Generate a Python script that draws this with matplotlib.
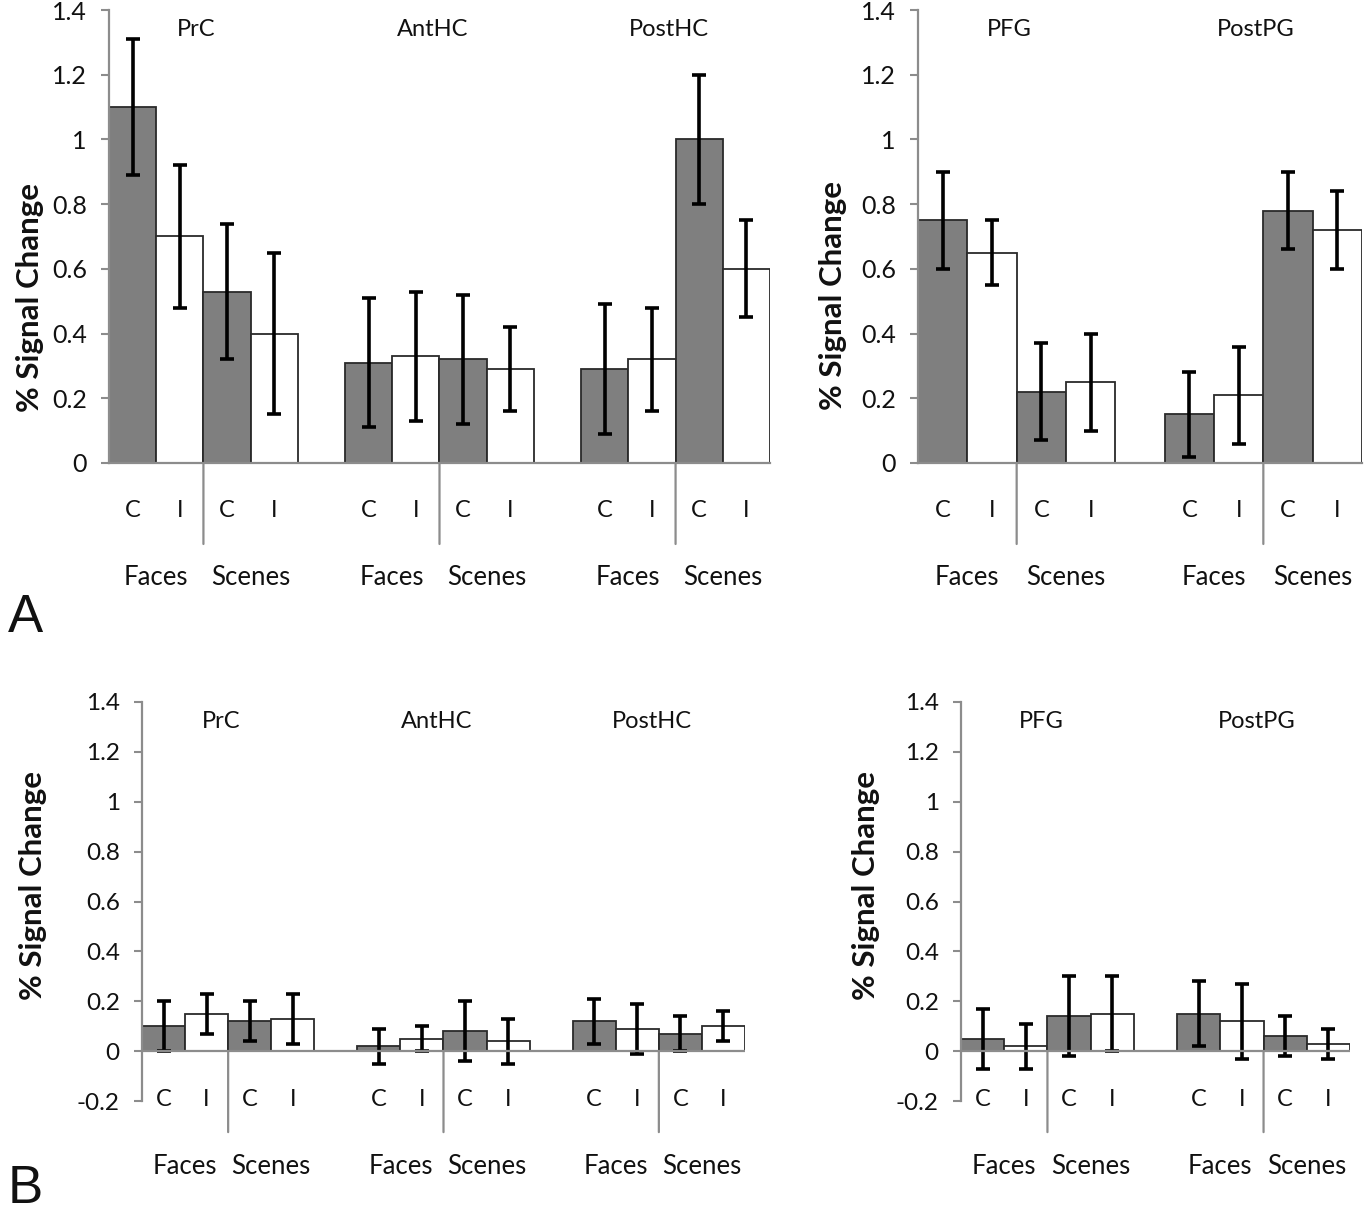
import matplotlib
matplotlib.use('Agg')
import matplotlib.pyplot as plt
import numpy as np

plt.rcParams['font.family'] = ['Lato', 'DejaVu Sans']

W, H = 1365, 1213
DPI = 100

conditions = ['C', 'I', 'C', 'I']
stimuli = ['Faces', 'Scenes']

regions_left = ['PrC', 'AntHC', 'PostHC']
regions_right = ['PFG', 'PostPG']

# order in each region: Faces-C, Faces-I, Scenes-C, Scenes-I
A_left_mean = [[1.10, 0.70, 0.53, 0.40],
               [0.31, 0.33, 0.32, 0.29],
               [0.29, 0.32, 1.00, 0.60]]
A_left_err = [[0.21, 0.22, 0.21, 0.25],
              [0.20, 0.20, 0.20, 0.13],
              [0.20, 0.16, 0.20, 0.15]]

A_right_mean = [[0.75, 0.65, 0.22, 0.25],
                [0.15, 0.21, 0.78, 0.72]]
A_right_err = [[0.15, 0.10, 0.15, 0.15],
               [0.13, 0.15, 0.12, 0.12]]

B_left_mean = [[0.10, 0.15, 0.12, 0.13],
               [0.02, 0.05, 0.08, 0.04],
               [0.12, 0.09, 0.07, 0.10]]
B_left_err = [[0.10, 0.08, 0.08, 0.10],
              [0.07, 0.05, 0.12, 0.09],
              [0.09, 0.10, 0.07, 0.06]]

B_right_mean = [[0.05, 0.02, 0.14, 0.15],
                [0.15, 0.12, 0.06, 0.03]]
B_right_err = [[0.12, 0.09, 0.16, 0.15],
               [0.13, 0.15, 0.08, 0.06]]

yticks_A = [0, 0.2, 0.4, 0.6, 0.8, 1.0, 1.2, 1.4]
yticklabels_A = ['0', '0.2', '0.4', '0.6', '0.8', '1', '1.2', '1.4']
yticks_B = [-0.2, 0, 0.2, 0.4, 0.6, 0.8, 1.0, 1.2, 1.4]
yticklabels_B = ['-0.2', '0', '0.2', '0.4', '0.6', '0.8', '1', '1.2', '1.4']

GRAY = '#7f7f7f'
AXGRAY = '#8c8c8c'
TXT = '#111111'

fig = plt.figure(figsize=(W / DPI, H / DPI), dpi=DPI)


def panel(px_rect, regions, means, errs, ylim, yticks, yticklabels, ticksize):
    left, right, top, bottom = px_rect
    ax = fig.add_axes([left / W, 1 - bottom / H, (right - left) / W, (bottom - top) / H])
    nslots = 5 * len(regions) - 1
    colors = [GRAY, 'white', GRAY, 'white']
    for r, reg in enumerate(regions):
        base = 5 * r
        xs = base + np.arange(4) + 0.5
        ax.bar(xs, means[r], width=1.0, color=colors, edgecolor='#2a2a2a', linewidth=1.3,
               yerr=errs[r], capsize=5,
               error_kw=dict(elinewidth=2.6, capthick=2.6, ecolor='black'), zorder=2)
        # condition labels
        for x, c in zip(xs, conditions):
            ax.annotate(c, xy=(x, 0), xytext=(0, -48), textcoords='offset pixels',
                        ha='center', va='center', fontsize=17, color=TXT,
                        annotation_clip=False)
        # stimulus labels
        for x, s in zip([base + 1, base + 3], stimuli):
            ax.annotate(s, xy=(x, 0), xytext=(0, -115), textcoords='offset pixels',
                        ha='center', va='center', fontsize=18.5, color=TXT,
                        annotation_clip=False)
        # separator between Faces and Scenes
        ax.annotate('', xy=(base + 2, 0), xytext=(0, -81), textcoords='offset pixels',
                    xycoords='data', annotation_clip=False,
                    arrowprops=dict(arrowstyle='-', color=AXGRAY, lw=1.6,
                                    shrinkA=0, shrinkB=0))
        # region title
        ax.annotate(reg, xy=(base + 2 - 0.15, ylim[1]), xytext=(0, -20),
                    textcoords='offset pixels', ha='center', va='center',
                    fontsize=17, color=TXT, annotation_clip=False)
    ax.set_xlim(0, nslots)
    ax.set_ylim(*ylim)
    ax.set_xticks([])
    ax.set_yticks(yticks)
    ax.set_yticklabels(yticklabels)
    ax.tick_params(axis='y', direction='out', length=5.5, width=1.5, colors=AXGRAY,
                   labelcolor=TXT, labelsize=ticksize, pad=10.5)
    for s in ['top', 'right']:
        ax.spines[s].set_visible(False)
    ax.spines['left'].set_color(AXGRAY)
    ax.spines['left'].set_linewidth(1.6)
    if ylim[0] < 0:
        ax.spines['bottom'].set_visible(False)
        ax.axhline(0, color=AXGRAY, lw=1.6, zorder=3)
    else:
        ax.spines['bottom'].set_color(AXGRAY)
        ax.spines['bottom'].set_linewidth(1.6)
        ax.spines['bottom'].set_zorder(3)
    ax.patch.set_alpha(0)
    return ax


panel((109, 770, 10, 463), regions_left, A_left_mean, A_left_err, (0, 1.4), yticks_A, yticklabels_A, 18)
panel((918, 1362, 10, 463), regions_right, A_right_mean, A_right_err, (0, 1.4), yticks_A, yticklabels_A, 18)
panel((142, 745, 702, 1101), regions_left, B_left_mean, B_left_err, (-0.2, 1.4), yticks_B, yticklabels_B, 17.5)
panel((961, 1350, 702, 1101), regions_right, B_right_mean, B_right_err, (-0.2, 1.4), yticks_B, yticklabels_B, 17.5)

for (x, y) in [(30, 297), (833, 296), (33, 885), (866, 885)]:
    fig.text(x / W, 1 - y / H, '% Signal Change', rotation=90, ha='center', va='center',
             fontsize=22.5, fontweight='bold', color=TXT)

fig.text(25 / W, 1 - 618 / H, 'A', ha='center', va='center', fontsize=38,
         family=['Liberation Sans', 'DejaVu Sans'], color=TXT)
fig.text(25 / W, 1 - 1189 / H, 'B', ha='center', va='center', fontsize=38,
         family=['Liberation Sans', 'DejaVu Sans'], color=TXT)

fig.savefig('out.png', dpi=DPI, facecolor='white')
